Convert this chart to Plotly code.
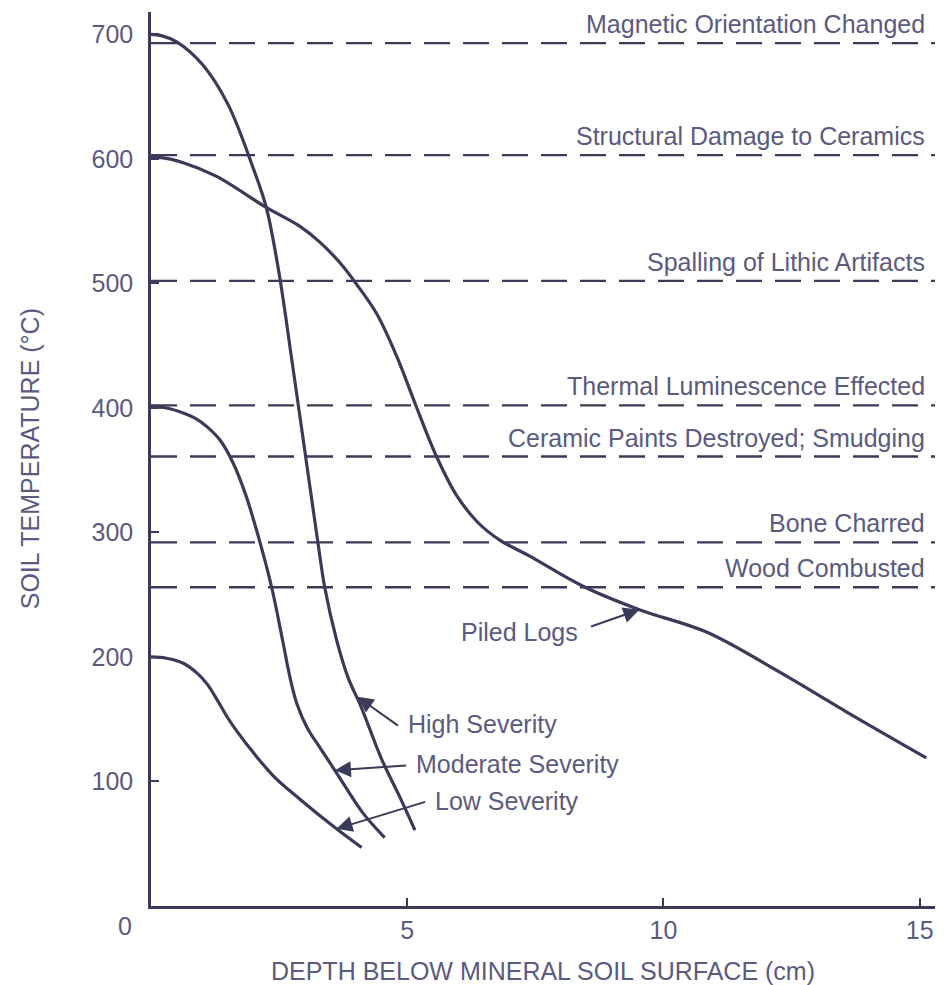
import plotly.graph_objects as go

# ---- data ----
high_x = [0, 0.2, 0.5, 1.0, 1.5, 2.0, 2.25, 2.5, 2.75, 3.0, 3.25, 3.39, 3.62, 3.85, 4.1, 4.5, 4.85, 5.15]
high_y = [700, 699, 694, 676, 644, 592, 561, 508, 438, 366, 294, 256, 214, 183, 160, 118, 88, 61]

mod_x = [0, 0.3, 0.63, 0.85, 1.09, 1.35, 1.6, 1.85, 2.1, 2.36, 2.57, 2.71, 2.85, 3.05, 3.3, 3.62, 4.13, 4.56]
mod_y = [401, 400, 396, 392, 385, 374, 356, 330, 296, 255, 213, 184, 162, 143, 127, 107, 75, 55]

low_x = [0, 0.3, 0.63, 0.9, 1.1, 1.3, 1.5, 1.7, 2.0, 2.4, 2.9, 3.62, 4.11]
low_y = [200, 199, 195, 187, 178, 165, 151, 139, 123, 104, 86, 62, 47]

logs_x = [0, 0.2, 0.63, 1.28, 2.25, 2.9, 3.3, 3.7, 4.0, 4.4, 4.8, 5.15, 5.55, 5.96, 6.38, 6.80, 7.39, 8.42, 9.53, 10.84, 12.26, 13.57, 15.13]
logs_y = [601, 601, 597, 586, 561, 546, 533, 516, 500, 476, 441, 404, 363, 330, 308, 294, 281, 257, 238, 220, 188, 156, 119]

thresholds = [693, 603, 502, 402, 361, 292, 256]
threshold_labels = [
    "Magnetic Orientation Changed",
    "Structural Damage to Ceramics",
    "Spalling of Lithic Artifacts",
    "Thermal Luminescence Effected",
    "Ceramic Paints Destroyed; Smudging",
    "Bone Charred",
    "Wood Combusted",
]

y_ticks = [100, 200, 300, 400, 500, 600, 700]
x_ticks = [5, 10, 15]

curve_labels = ["High Severity", "Moderate Severity", "Low Severity", "Piled Logs"]
label_y = [146, 114, 84, 220]
arrow_tail = [(4.85, 144), (5.01, 113), (5.38, 84), (8.56, 224)]
arrow_head = [(4.03, 168), (3.59, 109), (3.62, 62), (9.53, 238)]

LINE = "#3b3a58"
TEXT = "#5b5a80"
FONT = "Liberation Sans, Arial, Helvetica, sans-serif"
FS = 25

fig = go.Figure()

X_END = 15.3
for t in thresholds:
    fig.add_trace(go.Scatter(x=[0, X_END], y=[t, t], mode="lines",
                             line=dict(color=LINE, width=2.3, dash="26px,13px"),
                             hoverinfo="skip", showlegend=False))

for xs, ys in [(high_x, high_y), (mod_x, mod_y), (low_x, low_y), (logs_x, logs_y)]:
    fig.add_trace(go.Scatter(x=xs, y=ys, mode="lines",
                             line=dict(color=LINE, width=3.2, shape="spline", smoothing=1.0),
                             hoverinfo="skip", showlegend=False))

annotations = []
for t, lab in zip(thresholds, threshold_labels):
    annotations.append(dict(x=15.15, y=t, xref="x", yref="y", text=lab, showarrow=False,
                            xanchor="right", yanchor="bottom", yshift=3,
                            font=dict(family=FONT, size=FS, color=TEXT)))

for lab, ly, (tx, ty), (hx, hy) in zip(curve_labels, label_y, arrow_tail, arrow_head):
    if lab == "Piled Logs":
        annotations.append(dict(x=tx, y=ly, xref="x", yref="y", text=lab, showarrow=False,
                                xanchor="right", yanchor="middle", xshift=-10,
                                font=dict(family=FONT, size=FS, color=TEXT)))
    else:
        annotations.append(dict(x=tx, y=ly, xref="x", yref="y", text=lab, showarrow=False,
                                xanchor="left", yanchor="middle", xshift=6,
                                font=dict(family=FONT, size=FS, color=TEXT)))
    annotations.append(dict(x=hx, y=hy, xref="x", yref="y", ax=tx, ay=ty, axref="x", ayref="y",
                            text="", showarrow=True, arrowhead=2, arrowsize=1.6, arrowwidth=2,
                            arrowcolor=LINE))

annotations.append(dict(x=0, y=0, xref="x", yref="y", text="0", showarrow=False,
                        xanchor="center", yanchor="middle", xshift=-26, yshift=-20,
                        font=dict(family=FONT, size=FS, color=TEXT)))

annotations.append(dict(x=-0.154, y=0.5, xref="paper", yref="paper", text="SOIL TEMPERATURE (°C)",
                        showarrow=False, textangle=-90, xanchor="center", yanchor="middle",
                        font=dict(family=FONT, size=FS, color=TEXT)))

fig.update_layout(
    width=936, height=977,
    margin=dict(l=143, r=9, t=4, b=79),
    paper_bgcolor="white", plot_bgcolor="white",
    annotations=annotations,
    xaxis=dict(range=[0, X_END], tickvals=x_ticks, ticktext=[str(v) for v in x_ticks],
               ticks="inside", ticklen=8, tickwidth=2, tickcolor=LINE,
               showline=True, linecolor=LINE, linewidth=2.5, showgrid=False, zeroline=False,
               tickfont=dict(family=FONT, size=FS, color=TEXT),
               title=dict(text="DEPTH BELOW MINERAL SOIL SURFACE (cm)", standoff=20,
                          font=dict(family=FONT, size=FS, color=TEXT))),
    yaxis=dict(range=[0, 718], tickvals=y_ticks, ticktext=[str(v) for v in y_ticks],
               ticks="inside", ticklen=8, tickwidth=2, tickcolor=LINE,
               showline=True, linecolor=LINE, linewidth=2.5, showgrid=False, zeroline=False,
               ticklabelstandoff=10,
               tickfont=dict(family=FONT, size=FS, color=TEXT)),
)

fig.write_html("out.html")
